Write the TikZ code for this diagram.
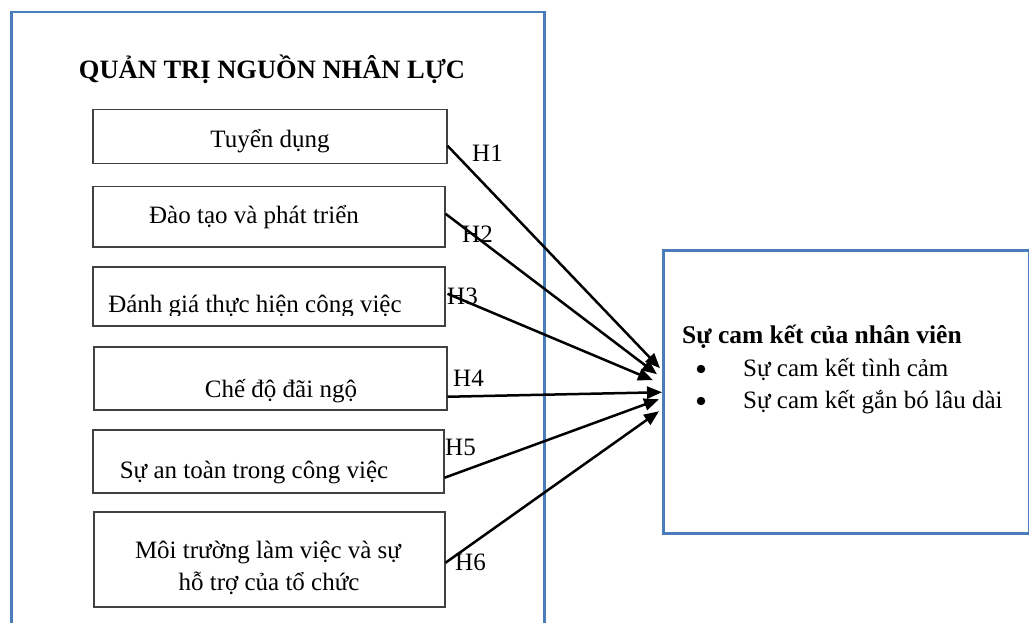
\documentclass[tikz,border=0pt]{standalone}
\usepackage{fontspec}
\setmainfont{Liberation Serif}
\usetikzlibrary{arrows.meta,calc}
\definecolor{frameblue}{RGB}{74,126,187}
\definecolor{boxgray}{RGB}{64,64,64}
\begin{document}
\begin{tikzpicture}[x=1pt,y=-1pt,
  every node/.style={font=\fontsize{25}{29}\selectfont, inner sep=0pt},
  bluebox/.style={draw=frameblue, line width=2.5pt},
  itembox/.style={draw=boxgray, line width=1.5pt, anchor=north west},
  txt/.style={anchor=base},
  ltxt/.style={anchor=base west},
  dot/.style={circle, fill=black, minimum size=8.5pt},
  arr/.style={line width=2.5pt, -{Triangle[length=15pt,width=12pt]}}]
\useasboundingbox (0,0) rectangle (1029,623);
\clip (0,0) rectangle (1029,623);
% outer frame
\node[bluebox, anchor=north west, minimum width=533pt, minimum height=660pt] (outer) at (10,11) {};
\node[txt, font=\fontsize{26.5}{30}\selectfont\bfseries] (title) at (272,79) {QUẢN TRỊ NGUỒN NHÂN LỰC};
% item boxes
\node[itembox, minimum width=354pt, minimum height=54pt] (b1) at (92,109) {};
\node[itembox, minimum width=352pt, minimum height=60pt] (b2) at (92,186) {};
\node[itembox, minimum width=352pt, minimum height=59pt] (b3) at (92,266) {};
\node[itembox, minimum width=353pt, minimum height=63pt] (b4) at (93,346) {};
\node[itembox, minimum width=351pt, minimum height=63pt] (b5) at (92,429) {};
\node[itembox, minimum width=351pt, minimum height=95pt] (b6) at (93,511) {};
% texts
\node[txt] (t1) at (270,148) {Tuyển dụng};
\node[txt] (t2) at (254,223) {Đào tạo và phát triển};
\begin{scope}
  \clip (92,266) rectangle (444,315);
  \node[txt] (t3) at (255,312) {Đánh giá thực hiện công việc};
\end{scope}
\node[txt] (t4) at (281,397) {Chế độ đãi ngộ};
\node[txt] (t5) at (254,478) {Sự an toàn trong công việc};
\node[txt] (t6a) at (268,558) {Môi trường làm việc và sự};
\node[txt] (t6b) at (269,590) {hỗ trợ của tổ chức};
% target box
\node[bluebox, anchor=north west, minimum width=366pt, minimum height=283pt] (cam) at (662,249) {};
\node[ltxt, font=\fontsize{25.5}{29}\selectfont\bfseries] (head) at (682,343) {Sự cam kết của nhân viên};
\node[dot] (bu1) at (701,369) {};
\node[dot] (bu2) at (701,401) {};
\node[ltxt] (i1) at (743,376) {Sự cam kết tình cảm};
\node[ltxt] (i2) at (743,408) {Sự cam kết gắn bó lâu dài};
% arrows
\draw[arr] ($(b1.east)+(0,9)$) -- ($(cam.west)+(-2,-23.5)$);
\draw[arr] ($(b2.east)+(0,-3)$) -- ($(cam.west)+(-5,-17.5)$);
\draw[arr] ($(b3.east)+(2,-2.5)$) -- ($(cam.west)+(-9,-11.5)$);
\draw[arr] ($(b4.east)+(0,18.5)$) -- ($(cam.west)+(0,0.5)$);
\draw[arr] ($(b5.east)+(0,16.5)$) -- ($(cam.west)+(-3,7.5)$);
\draw[arr] ($(b6.east)+(0,3.5)$) -- ($(cam.west)+(-3,19.5)$);
% labels
\node[ltxt] (h1) at (472,162) {H1};
\node[ltxt] (h2) at (462,242) {H2};
\node[ltxt] (h3) at (447,304) {H3};
\node[ltxt] (h4) at (453,386) {H4};
\node[ltxt] (h5) at (445,455) {H5};
\node[ltxt] (h6) at (455,570) {H6};
\end{tikzpicture}
\end{document}
